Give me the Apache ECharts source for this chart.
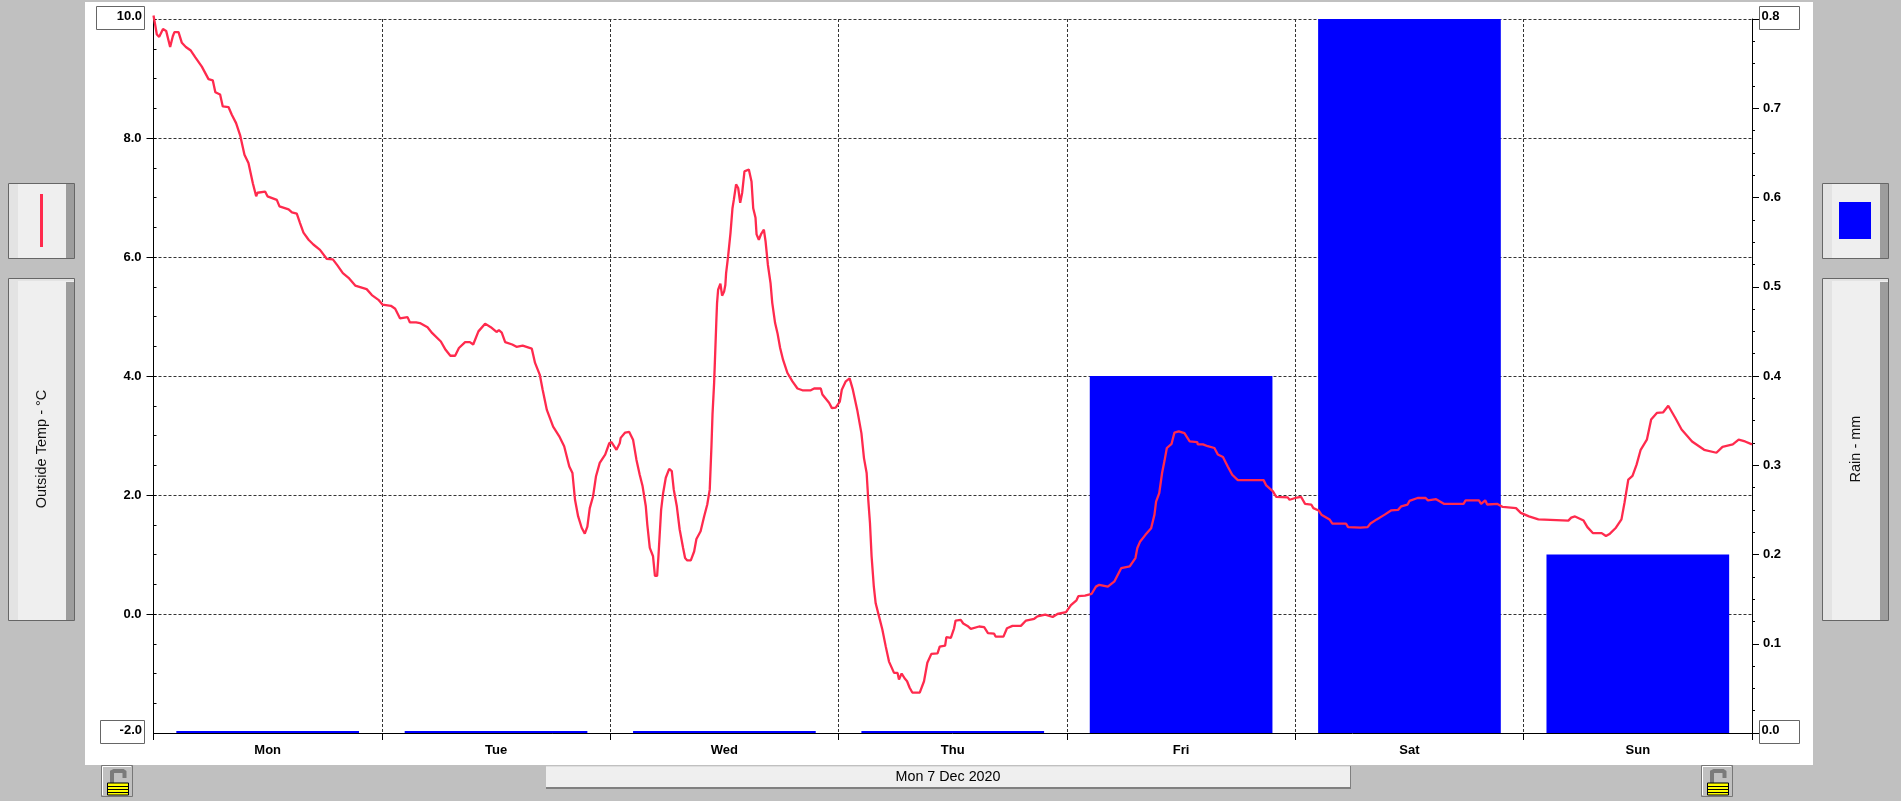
<!DOCTYPE html>
<html>
<head>
<meta charset="utf-8">
<style>html,body{margin:0;padding:0;background:#c0c0c0;overflow:hidden}#c{width:1901px;height:801px}</style>
<script src="https://cdn.jsdelivr.net/npm/echarts@6/dist/echarts.min.js"></script>
</head>
<body>
<div id="c"></div>
<script>
const days = ['Mon','Tue','Wed','Thu','Fri','Sat','Sun'];
const rainMm = [0,0,0,0,0.4,0.8,0.2];
const tempMinMax = [-2,10];
const rainMinMax = [0,0.8];
const tempEndLabels = ['-2.0','10.0'];
const rainEndLabels = ['0.0','0.8'];
const dateLabel = 'Mon 7 Dec 2020';
const leftTitle = 'Outside Temp - °C';
const rightTitle = 'Rain - mm';
const tempHours = [0,.18,.35,.6,1,1.33,1.75,2.03,2.2,2.63,2.98,3.4,3.92,4.38,5.08,5.78,6.23,6.5,7,7.28,7.88,8.23,8.68,9.1,9.56,9.98,10.44,10.79,10.93,11.73,11.98,12.96,13.24,14.2,14.55,15.06,15.4,15.76,16.3,16.8,17.5,18.2,18.85,19.33,19.9,20.5,21.2,22.4,22.95,23.64,24.06,24.95,25.4,25.9,26.7,26.95,27.6,28,28.8,29.3,30.2,30.7,31.2,31.7,32.1,32.75,33.25,33.6,34.15,34.85,35.45,36.05,36.3,36.6,36.96,37.7,38.15,38.8,39.76,40.1,40.6,40.9,41.34,42,42.63,43.16,43.7,44.03,44.3,44.63,45,45.33,45.6,45.85,46.2,46.5,46.9,47.47,47.9,48.13,48.66,49,49.1,49.57,50,50.4,50.76,51.1,51.4,51.74,51.9,52.16,52.5,52.7,52.93,53.07,53.35,53.56,53.84,54.2,54.47,54.68,55,55.3,55.66,55.87,56.1,56.47,56.82,57.06,57.5,57.87,58.2,58.46,58.64,58.75,58.92,59.16,59.23,59.34,59.58,59.76,59.97,60.1,60.18,60.39,60.64,60.85,60.99,61.23,61.45,61.66,61.87,62.11,62.57,62.85,63.03,63.27,63.38,63.62,63.87,64.15,64.33,64.57,64.85,65.03,65.33,65.58,65.86,66.17,66.63,67.15,67.68,68.2,69.08,69.43,70.13,70.3,71,71.3,71.7,72.13,72.34,72.76,73.16,73.5,73.96,74.4,74.67,74.95,75.12,75.3,75.47,75.7,75.9,76.25,76.6,76.95,77.3,77.83,78.2,78.35,78.63,78.98,79.2,79.47,79.75,80.53,80.98,81.33,81.75,82.4,82.63,83.2,83.33,83.8,84.14,84.3,84.84,85.1,85.55,85.9,86.77,87.3,87.7,88.35,88.5,89.33,89.7,90.28,91.16,91.7,92.56,92.9,93.72,94.5,95,95.9,96.42,97,97.2,97.9,98.6,99.05,99.4,100.3,101,101.7,102.6,103.2,103.4,103.7,104.25,104.85,105.2,105.37,105.7,106,106.25,106.5,107,107.3,107.75,108.35,108.9,109.7,109.75,110.3,110.8,111.5,111.86,112.4,112.9,113.37,113.96,116.67,116.95,117.65,118,119.2,119.4,120,120.6,121.03,121.68,121.9,122.45,122.75,123.6,123.9,125.33,125.55,126.84,127.6,127.9,128.56,129.4,130.06,130.8,131.14,131.8,132,132.86,133.7,133.94,134.8,135.66,137.68,137.9,139.3,139.53,139.96,140.17,141.25,141.8,143.2,143.7,144.56,145.55,148.7,149,149.4,150.3,150.7,151.27,152.2,152.65,153.07,153.7,154.28,154.6,155,155.44,155.87,156.3,156.95,157.4,158,158.67,159.2,159.96,160.6,161.7,162.97,164.26,164.9,165.98,166.6,167.27,168];
const tempValues = [10.06,9.9,9.74,9.7,9.83,9.8,9.53,9.71,9.78,9.78,9.6,9.53,9.47,9.36,9.2,8.99,8.97,8.77,8.73,8.53,8.52,8.39,8.25,8.05,7.72,7.58,7.24,7.02,7.08,7.1,7.02,6.96,6.85,6.8,6.75,6.73,6.57,6.41,6.29,6.21,6.12,5.97,5.96,5.86,5.73,5.65,5.52,5.46,5.36,5.28,5.2,5.18,5.13,4.97,4.99,4.9,4.9,4.89,4.82,4.72,4.58,4.44,4.34,4.34,4.47,4.57,4.57,4.53,4.75,4.88,4.82,4.74,4.77,4.73,4.57,4.53,4.49,4.51,4.46,4.22,4.02,3.77,3.43,3.15,2.99,2.82,2.48,2.37,1.92,1.64,1.45,1.35,1.47,1.78,1.98,2.31,2.54,2.68,2.87,2.89,2.76,2.87,2.96,3.05,3.06,2.93,2.59,2.34,2.15,1.81,1.5,1.11,.97,.64,.64,.97,1.75,2.03,2.29,2.44,2.4,2.09,1.81,1.42,1.11,.94,.9,.9,1.05,1.26,1.39,1.64,1.84,2.09,2.82,3.35,3.88,4.95,5.23,5.45,5.55,5.35,5.42,5.53,5.73,6.01,6.4,6.82,6.96,7.22,7.16,6.91,7.08,7.44,7.47,7.27,6.82,6.66,6.38,6.29,6.39,6.46,6.26,5.87,5.56,5.23,4.89,4.72,4.47,4.27,4.05,3.91,3.79,3.76,3.76,3.79,3.79,3.69,3.55,3.46,3.47,3.57,3.77,3.91,3.96,3.77,3.43,3.04,2.62,2.37,1.92,1.53,.97,.47,.18,-.04,-.26,-.54,-.8,-.99,-.99,-1.1,-1,-1.09,-1.13,-1.24,-1.32,-1.32,-1.13,-.82,-.67,-.66,-.55,-.53,-.39,-.4,-.24,-.11,-.1,-.16,-.2,-.25,-.21,-.22,-.32,-.33,-.38,-.38,-.24,-.2,-.2,-.11,-.08,-.04,-.01,-.05,0,.03,.15,.23,.3,.31,.34,.46,.49,.46,.55,.77,.8,.94,1.11,1.22,1.33,1.44,1.67,1.89,2.03,2.37,2.57,2.79,2.86,3.05,3.07,3.04,2.9,2.89,2.85,2.85,2.82,2.79,2.68,2.64,2.48,2.34,2.25,2.25,2.16,2.06,1.97,1.96,1.92,1.95,1.97,1.85,1.84,1.78,1.74,1.67,1.59,1.52,1.52,1.46,1.45,1.46,1.52,1.59,1.67,1.74,1.75,1.81,1.84,1.9,1.95,1.95,1.91,1.93,1.85,1.85,1.91,1.91,1.85,1.91,1.84,1.85,1.8,1.78,1.7,1.64,1.59,1.57,1.62,1.64,1.57,1.46,1.36,1.36,1.31,1.35,1.45,1.59,1.87,2.26,2.32,2.51,2.76,2.93,3.27,3.38,3.39,3.5,3.29,3.1,2.9,2.76,2.71,2.81,2.85,2.93,2.9,2.85];

const tickFont = {fontFamily:'Liberation Sans',fontSize:13,fontWeight:'bold',color:'#000'};
const boxStroke = '#666';
function rect(x,y,w,h,fill,stroke,z){return {type:'rect',z:z===undefined?-10:z,silent:true,shape:{x,y,width:w,height:h},style:{fill:fill,stroke:stroke||null,lineWidth:stroke?1:0}};}
function txt(x,y,t,align,font,z){return {type:'text',z:z||20,silent:true,x,y,style:{text:t,align:align,verticalAlign:'middle',fill:'#000',font:font}};}
function rotTxt(x,y,t){return {type:'text',z:20,silent:true,x,y,rotation:Math.PI/2,style:{text:t,align:'center',verticalAlign:'middle',fill:'#111',font:'14.5px "Liberation Sans"'}};}
function button(x,y,w,h,topStrip){
  const a=[rect(x,y,w,h,'#efefef',null),rect(x,y,10,h,'#e3e3e3',null),rect(x+w-8,y+(topStrip?4:0),8,h-(topStrip?4:0),'#9d9d9d',null)];
  if(topStrip)a.push(rect(x,y,w,3,'#e3e3e3',null));
  a.push({type:'rect',z:-9,silent:true,shape:{x:x+.5,y:y+.5,width:w,height:h},style:{fill:null,stroke:'#666',lineWidth:1}});
  return a;
}
function lock(x,y){
  const out=[{type:'rect',z:-9,silent:true,shape:{x:x+.5,y:y+.5,width:31,height:31},style:{fill:'#c0c0c0',stroke:'#777',lineWidth:1}},
    {type:'polyline',z:-8,silent:true,shape:{points:[[x+1.5,y+30],[x+1.5,y+1.5],[x+30,y+1.5]]},style:{fill:null,stroke:'#fff',lineWidth:1}},
    {type:'polyline',z:-8,silent:true,shape:{points:[[x+11,y+18],[x+11,y+7],[x+13,y+6],[x+22,y+6],[x+23.5,y+7],[x+23.5,y+13]]},style:{fill:null,stroke:'#7a7a7a',lineWidth:4}},
    {type:'rect',z:-8,silent:true,shape:{x:x+6.5,y:y+18,width:21,height:12},style:{fill:'#ffff00',stroke:'#000',lineWidth:1}}];
  [21.5,24.5,27.5].forEach(d=>out.push({type:'line',z:-7,silent:true,shape:{x1:x+7,y1:y+d,x2:x+27,y2:y+d},style:{stroke:'#000',lineWidth:1}}));
  return out;
}
const graphics = [].concat(
  [rect(85,2,1728,763,'#fff',null,-20)],
  button(8,183,66,75,false),
  [{type:'rect',z:-8,silent:true,shape:{x:40,y:194,width:3,height:53},style:{fill:'#ff2a4d'}}],
  button(8,278,66,342,true),
  button(1822,183,66,75,false),
  [{type:'rect',z:-8,silent:true,shape:{x:1839,y:202,width:32,height:37},style:{fill:'#0000ff'}}],
  button(1822,278,66,342,true),
  [rotTxt(42,449,leftTitle),rotTxt(1856,449,rightTitle)],
  [rect(96.5,6.5,48,23,'#fff',boxStroke,-5),rect(100.5,720.5,44,23,'#fff',boxStroke,-5),
   rect(1759.5,6.5,40,23,'#fff',boxStroke,-5),rect(1759.5,720.5,40,23,'#fff',boxStroke,-5)],
  [txt(142,16,tempEndLabels[1],'right','bold 13px "Liberation Sans"'),
   txt(142,730,tempEndLabels[0],'right','bold 13px "Liberation Sans"'),
   txt(1761.5,16,rainEndLabels[1],'left','bold 13px "Liberation Sans"'),
   txt(1761.5,730,rainEndLabels[0],'left','bold 13px "Liberation Sans"')],
  [rect(546,766,805,23,'#efefef',null),rect(546,766,805,1,'#dedede',null),rect(546,787,805,2,'#808080',null),rect(1350,766,1,23,'#808080',null),
   txt(948,777,dateLabel,'center','14.3px "Liberation Sans"')],
  lock(101,765),lock(1701,765)
);
const chart = echarts.init(document.getElementById('c'),null,{renderer:'canvas'});
chart.setOption({
  animation:false,
  backgroundColor:'#c0c0c0',
  graphic:{elements:graphics},
  grid:{left:153.5,top:19,width:1598.5,height:714,containLabel:false},
  tooltip:{show:false},
  xAxis:[
    {type:'category',data:days,boundaryGap:true,position:'bottom',
     axisLine:{show:true,onZero:false,lineStyle:{color:'#000',width:1}},
     axisTick:{show:true,length:7,alignWithLabel:false,lineStyle:{color:'#000',width:1}},
     splitLine:{show:true,interval:0,lineStyle:{color:'#333',width:1,type:[3,2]}},
     axisLabel:Object.assign({margin:11,interval:0},tickFont)},
    {type:'value',min:0,max:168,show:false}
  ],
  yAxis:[
    {type:'value',min:tempMinMax[0],max:tempMinMax[1],interval:2,position:'left',
     axisLine:{show:true,onZero:false,lineStyle:{color:'#000',width:1}},
     axisTick:{show:true,length:7,lineStyle:{color:'#000',width:1}},
     splitLine:{show:true,lineStyle:{color:'#333',width:1,type:[3,2]}},
     axisLabel:Object.assign({margin:12,showMinLabel:false,showMaxLabel:false,formatter:v=>v.toFixed(1)},tickFont)},
    {type:'value',min:rainMinMax[0],max:rainMinMax[1],interval:0.1,position:'right',
     axisLine:{show:true,onZero:false,lineStyle:{color:'#000',width:1}},
     axisTick:{show:true,length:7,lineStyle:{color:'#000',width:1}},
     minorTick:{show:true,splitNumber:4,length:3,lineStyle:{color:'#000',width:1}},
     splitLine:{show:false},
     axisLabel:Object.assign({margin:11,showMinLabel:false,showMaxLabel:false,formatter:v=>v.toFixed(1)},tickFont)},
    {type:'value',min:tempMinMax[0],max:tempMinMax[1],interval:0.5,position:'left',
     axisLine:{show:false},
     axisTick:{show:true,inside:true,length:3,lineStyle:{color:'#000',width:1}},
     splitLine:{show:false},axisLabel:{show:false}}
  ],
  series:[
    {type:'bar',name:'Rain',xAxisIndex:0,yAxisIndex:1,data:rainMm,barWidth:'80%',barMinHeight:2,
     itemStyle:{color:'#0000ff'},z:2,silent:true},
    {type:'line',name:'Outside Temp',xAxisIndex:1,yAxisIndex:0,
     data:tempHours.map((h,i)=>[h,tempValues[i]]),showSymbol:false,symbol:'none',
     lineStyle:{color:'#ff2a4d',width:2.3},z:3,silent:true,clip:false}
  ]
});
</script>
</body>
</html>
